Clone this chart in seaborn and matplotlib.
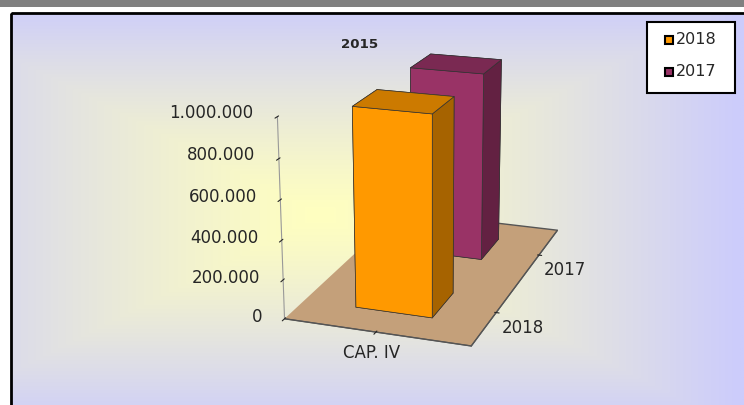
import numpy as np
import seaborn as sns
import matplotlib.pyplot as plt
from matplotlib.patches import Rectangle
from matplotlib.ticker import FuncFormatter
import matplotlib.colors as mcolors

# data
categories = ["CAP. IV"]
series = ["2018", "2017"]
values_2018 = [1010000]
values_2017 = [1005000]
bar_colors = ["#FF9900", "#993366"]
floor_color = "#C4A07A"

sns.set_style("white")
plt.rcParams['font.family'] = ['DejaVu Sans']

fig = plt.figure(figsize=(7.44, 4.05), dpi=100)

# background: gray strip + chart area with rectangular gradient
bg = fig.add_axes([0, 0, 1, 1])
bg.set_axis_off()
xx, yy = np.meshgrid(np.linspace(11, 760, 400), np.linspace(13, 405, 220))
t = np.clip(np.maximum(np.abs(xx - 320) / 420, np.abs(yy - 215) / 215), 0, 1) ** 1.2
c0 = np.array(mcolors.to_rgb('#FFFFC0'))
c1 = np.array(mcolors.to_rgb('#CCCCFC'))
img = c0[None, None, :] * (1 - t[..., None]) + c1[None, None, :] * t[..., None]
bg.imshow(img, extent=(11, 760, 405, 13), aspect='auto', zorder=0)
bg.add_patch(Rectangle((0, 0), 744, 7, color='#808080', lw=0))
bg.add_patch(Rectangle((11, 13), 760, 400, fill=False, ec='black', lw=2, zorder=1))

# legend box
bg.add_patch(Rectangle((647, 22), 88, 71, fc='white', ec='black', lw=1.5, zorder=2))
for k, (s, c) in enumerate(zip(series, bar_colors)):
    yk = 40 + 32 * k
    bg.add_patch(Rectangle((665, yk - 4), 8, 8, fc=c, ec='black', lw=1.5, zorder=3))
    bg.text(676, yk, s, fontsize=11.5, ha='left', va='center', zorder=3)
bg.set_xlim(0, 744)
bg.set_ylim(405, 0)

fig.text(360 / 744, 1 - 44 / 405, "2015", fontsize=9.6, fontweight='bold',
         ha='center', va='center')

# 3D column chart
ax = fig.add_axes([0.173, 0.075, 0.8, 0.94], projection='3d')
ax.set_facecolor((0, 0, 0, 0))
ax.patch.set_alpha(0)
ax.view_init(elev=18.5, azim=-71)
ax.set_proj_type('persp', focal_length=0.7)
ax.set_box_aspect((205, 350, 220), zoom=1.06)


def face_colors(c):
    r = np.array(mcolors.to_rgb(c))
    # bottom, top, front, back, left, right
    return [r, r * 0.8, r, r, r, r * 0.65]


for i, vals in enumerate([values_2018, values_2017]):
    for j, v in enumerate(vals):
        ax.bar3d(j - 0.21, i - 0.2, 0, 0.42, 0.4, v,
                 color=face_colors(bar_colors[i]), edgecolor='#333333',
                 linewidth=0.5, shade=False)

ax.set_xlim(-0.5, 0.5)
ax.set_ylim(-0.5, 1.5)
ax.set_zlim(0, 1000000)
ax.set_xticks(range(len(categories)))
ax.set_xticklabels(categories, fontsize=12)
ax.set_yticks(range(len(series)))
ax.set_yticklabels(series, fontsize=12)
ax.set_zticks(range(0, 1000001, 200000))
ax.zaxis.set_major_formatter(FuncFormatter(lambda v, p: f"{v:,.0f}".replace(',', '.')))
ax.tick_params(axis='z', labelsize=12, pad=2)
ax.tick_params(axis='x', pad=-3)
ax.tick_params(axis='y', pad=-4)
ax.zaxis.set_ticks_position('lower')
for lbl in ax.get_zticklabels():
    lbl.set_horizontalalignment('right')
    lbl.set_verticalalignment('bottom')
for lbl in ax.get_yticklabels():
    lbl.set_horizontalalignment('left')
ax.grid(False)

ax.xaxis.set_pane_color((1, 1, 1, 0))
ax.yaxis.set_pane_color((1, 1, 1, 0))
ax.zaxis.set_pane_color(mcolors.to_rgba(floor_color))
ax.xaxis.pane.set_edgecolor((0, 0, 0, 0))
ax.yaxis.pane.set_edgecolor((0, 0, 0, 0))
ax.zaxis.pane.set_edgecolor('#555555')
ax.xaxis.line.set_color('#555555')
ax.yaxis.line.set_color('#555555')
ax.zaxis.line.set_color('#999999')

fig.savefig('out.png', dpi=100)
